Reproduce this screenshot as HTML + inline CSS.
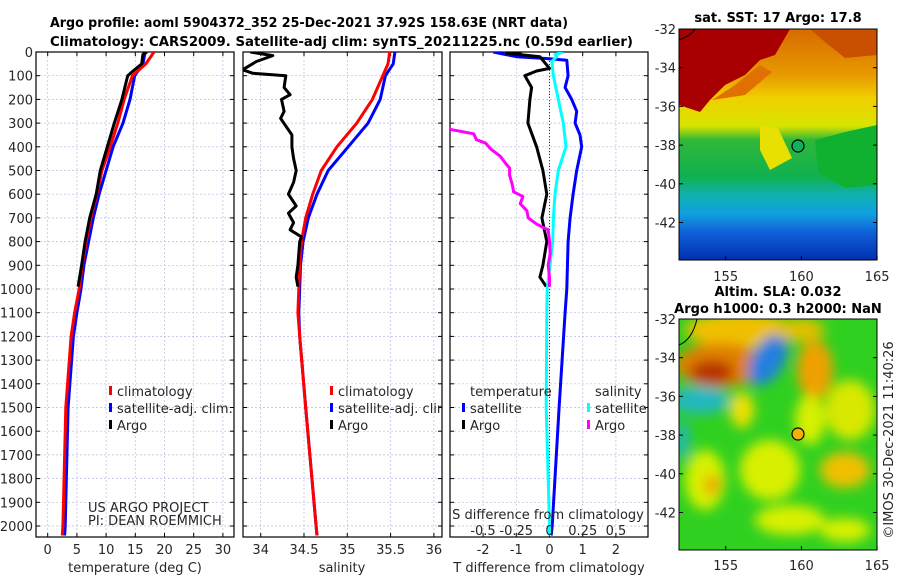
<!DOCTYPE html>
<html><head><meta charset="utf-8">
<style>
html,body{margin:0;padding:0;background:#fff;}
svg{display:block;font-family:"DejaVu Sans","Liberation Sans",sans-serif;}
.t{font-size:13px;fill:#262626;}
.b{font-weight:bold;font-size:13px;fill:#000;}
</style></head>
<body>
<svg id="fig" width="900" height="580" viewBox="0 0 900 580">
<defs>
<filter id="blur6" x="-20%" y="-20%" width="140%" height="140%"><feGaussianBlur stdDeviation="6"/></filter>
<clipPath id="c1"><rect x="36" y="52" width="198" height="485"/></clipPath>
<clipPath id="c2"><rect x="243" y="52" width="199" height="485"/></clipPath>
<clipPath id="c3"><rect x="450" y="52" width="198" height="485"/></clipPath>
<clipPath id="m1"><rect x="679" y="29" width="198" height="231"/></clipPath>
<clipPath id="m2"><rect x="679" y="319" width="198" height="231"/></clipPath>
<linearGradient id="sstg" x1="0" y1="0" x2="0" y2="1">
<stop offset="0" stop-color="#d86a00"/><stop offset="0.2" stop-color="#e89a00"/>
<stop offset="0.3" stop-color="#f0d000"/><stop offset="0.42" stop-color="#d8e400"/>
<stop offset="0.48" stop-color="#30b838"/><stop offset="0.64" stop-color="#10b050"/>
<stop offset="0.72" stop-color="#10b0b0"/><stop offset="0.8" stop-color="#10a0e0"/>
<stop offset="0.88" stop-color="#1060d8"/><stop offset="1" stop-color="#0030b0"/>
</linearGradient>
</defs>
<text class="b" x="50" y="27" textLength="518" lengthAdjust="spacingAndGlyphs">Argo profile: aoml 5904372_352 25-Dec-2021 37.92S 158.63E (NRT data)</text>
<text class="b" x="50" y="46" textLength="583" lengthAdjust="spacingAndGlyphs">Climatology: CARS2009. Satellite-adj clim: synTS_20211225.nc (0.59d earlier)</text>
<g id="plots"></g>
<g id="maps">
 <g clip-path="url(#m1)">
  <rect x="679" y="29" width="198" height="231" fill="url(#sstg)"/>
  <polygon points="679,29 790,29 775,55 760,60 745,75 725,85 710,100 700,112 679,105" fill="#a80000"/>
  <polygon points="712,100 735,85 760,65 772,72 745,95" fill="#e07000"/>
  <polygon points="810,29 877,29 877,55 845,58 825,42" fill="#c85000"/>
  <polygon points="760,125 778,128 792,158 770,170 760,150" fill="#e8e000"/>
  <polygon points="815,140 845,132 877,125 877,185 845,188 818,172" fill="#10b030"/>
  <path d="M679,40 Q692,35 695,29" fill="none" stroke="#000" stroke-width="1"/>
  <circle cx="798" cy="146" r="6" fill="#10b060" stroke="#000" stroke-width="1.2"/>
 </g>
 <rect x="679" y="29" width="198" height="231" fill="none" stroke="#000" stroke-width="1"/>
 <g clip-path="url(#m2)">
  <rect x="679" y="319" width="198" height="231" fill="#30d020"/>
  <g filter="url(#blur6)">
   <ellipse cx="740" cy="330" rx="55" ry="18" fill="#f0c000"/>
   <ellipse cx="720" cy="365" rx="45" ry="22" fill="#e08000"/>
   <ellipse cx="712" cy="372" rx="22" ry="12" fill="#b83000"/>
   <ellipse cx="768" cy="360" rx="16" ry="28" fill="#2080e0" transform="rotate(30 768 360)"/>
   <ellipse cx="700" cy="400" rx="30" ry="14" fill="#20b8c0"/>
   <ellipse cx="815" cy="370" rx="18" ry="30" fill="#f0a000"/>
   <ellipse cx="800" cy="330" rx="25" ry="12" fill="#e0c000"/>
   <ellipse cx="850" cy="410" rx="25" ry="30" fill="#d8e800"/>
   <ellipse cx="845" cy="470" rx="25" ry="18" fill="#f0c000"/>
   <ellipse cx="770" cy="470" rx="30" ry="30" fill="#d8f000"/>
   <ellipse cx="705" cy="480" rx="20" ry="30" fill="#d8f000"/>
   <ellipse cx="712" cy="485" rx="8" ry="10" fill="#f0a000"/>
   <ellipse cx="790" cy="520" rx="35" ry="15" fill="#d8f000"/>
   <ellipse cx="845" cy="530" rx="25" ry="12" fill="#d8f000"/>
   <ellipse cx="742" cy="410" rx="12" ry="18" fill="#f0e000"/>
   <ellipse cx="810" cy="420" rx="15" ry="25" fill="#d8f000"/>
   <ellipse cx="682" cy="440" rx="8" ry="20" fill="#20b8b0"/>
  </g>
  <path d="M679,345 Q692,340 697,319" fill="none" stroke="#000" stroke-width="1"/>
  <circle cx="798" cy="434" r="6" fill="#f5b000" stroke="#000" stroke-width="1.2"/>
 </g>
 <rect x="679" y="319" width="198" height="231" fill="none" stroke="#000" stroke-width="1"/>
 <text class="b" x="778" y="22" text-anchor="middle">sat. SST: 17 Argo: 17.8</text>
 <text class="b" x="778" y="296" text-anchor="middle">Altim. SLA: 0.032</text>
 <text class="b" x="778" y="313" text-anchor="middle">Argo h1000: 0.3 h2000: NaN</text>
 <text class="t" transform="translate(893,440) rotate(-90)" text-anchor="middle">©IMOS 30-Dec-2021 11:40:26</text>
</g>
<g id="mapaxes"></g>
</svg>
<script>
// ---- data ----
const depthTicks = [0,100,200,300,400,500,600,700,800,900,1000,1100,1200,1300,1400,1500,1600,1700,1800,1900,2000];
const tTicks = [0,5,10,15,20,25,30];
const sTicks = [34,34.5,35,35.5,36];
const sTickLabels = ["34","34.5","35","35.5","36"];
const dTTicks = [-2,-1,0,1,2];
const dSTicks = [-0.5,-0.25,0,0.25,0.5];
const dSTickLabels = ["-0.5","-0.25","0","0.25","0.5"];

const climDepth = [0,50,100,200,300,400,500,600,700,800,900,1000,1100,1200,1500,2000,2040];
const tempClim = [18.2,16.8,14.5,13.1,12.0,10.7,9.3,8.4,7.4,6.6,5.9,5.4,4.6,4.0,3.1,2.6,2.5];
const tempSat  = [16.7,16.3,14.9,14.1,12.9,11.2,10.0,8.8,7.8,7.0,6.2,5.7,5.0,4.4,3.5,3.0,2.9];
const salClim = [35.49,35.47,35.41,35.29,35.11,34.88,34.70,34.60,34.52,34.47,34.45,34.44,34.43,34.45,34.52,34.64,34.65];
const salSat  = [35.55,35.53,35.44,35.38,35.24,35.01,34.78,34.65,34.55,34.49,34.46,34.45,34.44,34.45,34.52,34.64,34.65];

const argoTDepth = [0,10,50,80,100,200,300,400,500,600,700,800,900,990];
const tempArgo = [17.0,16.3,16.1,14.6,13.7,12.7,11.4,10.2,9.0,8.3,7.2,6.4,5.8,5.2];
const argoSDepth = [0,15,40,75,90,100,150,180,200,250,280,350,400,450,500,550,600,650,680,720,750,780,800,900,950,990];
const salArgo = [33.88,34.14,33.95,33.79,33.91,34.29,34.27,34.34,34.24,34.27,34.23,34.36,34.36,34.38,34.41,34.38,34.32,34.41,34.32,34.38,34.34,34.47,34.45,34.43,34.41,34.43];

const dTSatDepth = [0,20,28,35,100,150,200,250,300,350,400,500,600,700,800,1000,1100,1500,2000,2040];
const dTSat = [-1.69,-0.99,-0.05,0.52,0.56,0.47,0.67,0.82,0.77,0.92,0.97,0.82,0.71,0.62,0.56,0.52,0.47,0.29,0.08,0.05];
const dTArgoDepth = [0,5,20,69,80,100,150,200,300,400,500,600,700,800,900,950,990];
const dTArgo = [-0.84,-1.29,-0.29,0.0,-0.39,-0.74,-0.54,-0.59,-0.65,-0.39,-0.2,-0.08,-0.23,-0.08,-0.2,-0.29,-0.1];
const dSSatDepth = [0,10,20,40,100,200,300,400,500,600,700,800,1000,1100,1500,2000,2040];
const dSSat = [0.104,0.041,0.054,0.017,0.029,0.066,0.104,0.124,0.066,0.041,0.029,0.024,-0.017,-0.02,-0.025,0.0,0.0];
const dSArgoDepth = [326,345,370,385,410,440,470,490,520,560,590,610,640,670,700,725,740,750,800,850,900,950,990];
const dSArgo = [-0.75,-0.57,-0.55,-0.48,-0.44,-0.37,-0.33,-0.30,-0.30,-0.28,-0.27,-0.20,-0.22,-0.17,-0.16,-0.10,-0.05,-0.01,0.0,0.005,-0.01,0.0,0.0];

const latTicks = [-32,-34,-36,-38,-40,-42];
const lonTicks = [155,160,165];

// ---- scales ----
const NS = "http://www.w3.org/2000/svg";
const yD = d => 52 + d*0.237;
const xT = t => 47.7 + t*5.84;
const xS = s => 260.7 + (s-34)*86.6;
const xdT = v => 549.5 + v*33.2;
const xdS = v => 549.5 + v*133;
const mapLon = lon => 725.7 + (lon-155)*15.14;
const mapLat1 = lat => 29 + (-32-lat)*19.35;
const mapLat2 = lat => 319 + (-32-lat)*19.35;
const plots = document.getElementById('plots');

function mk(tag, attrs, parent){
  const e = document.createElementNS(NS, tag);
  for (const k in attrs) e.setAttribute(k, attrs[k]);
  (parent||plots).appendChild(e);
  return e;
}
function txt(x,y,s,anchor,parent){
  const e = mk('text',{x:x,y:y,'class':'t','text-anchor':anchor||'middle'},parent);
  e.textContent = s;
  return e;
}
function line(xs, ds, xf, color, clip, name){
  const pts = xs.map((v,i)=>xf(v).toFixed(1)+','+yD(ds[i]).toFixed(1)).join(' ');
  const e = mk('polyline',{points:pts,fill:'none',stroke:color,'stroke-width':3,'stroke-linejoin':'round','clip-path':'url(#'+clip+')'});
  
  
}
function panel(x0,x1,gridXs,name){
  const g = mk('g',{});
  
  
  depthTicks.forEach(d=>{
    mk('line',{x1:x0,x2:x1,y1:yD(d),y2:yD(d),stroke:'#b8bce0','stroke-width':0.7,'stroke-dasharray':'2,2'},g);
    mk('line',{x1:x0,x2:x0+4,y1:yD(d),y2:yD(d),stroke:'#000'},g);
    mk('line',{x1:x1-4,x2:x1,y1:yD(d),y2:yD(d),stroke:'#000'},g);
  });
  gridXs.forEach(x=>{
    mk('line',{x1:x,x2:x,y1:52,y2:537,stroke:'#b8bce0','stroke-width':0.7,'stroke-dasharray':'2,2'},g);
    mk('line',{x1:x,x2:x,y1:537,y2:533,stroke:'#000'},g);
    mk('line',{x1:x,x2:x,y1:52,y2:56,stroke:'#000'},g);
  });
  mk('rect',{x:x0,y:52,width:x1-x0,height:485,fill:'none',stroke:'#000','stroke-width':1.2},g);
  return g;
}
depthTicks.forEach(d=>{
  const e = txt(33, yD(d)+5, String(d), 'end');
  
  
});
// panel 1
panel(36,234,tTicks.map(xT),'temperature-panel');
tTicks.forEach(t=>{ const e=txt(xT(t),554,String(t));   });
{const e=txt(135,572,'temperature (deg C)');  }
line(tempSat,climDepth,xT,'#0000ff','c1','temperature-satellite-clim-line');
line(tempClim,climDepth,xT,'#ff0000','c1','temperature-climatology-line');
line(tempArgo,argoTDepth,xT,'#000000','c1','temperature-argo-line');
// panel 2
panel(243,442,sTicks.map(xS),'salinity-panel');
sTicks.forEach((s,i)=>{ const e=txt(xS(s),554,sTickLabels[i]);   });
{const e=txt(342,572,'salinity');  }
line(salSat,climDepth,xS,'#0000ff','c2','salinity-satellite-clim-line');
line(salClim,climDepth,xS,'#ff0000','c2','salinity-climatology-line');
line(salArgo,argoSDepth,xS,'#000000','c2','salinity-argo-line');
// panel 3
panel(450,648,dTTicks.map(xdT),'difference-panel');
mk('line',{x1:xdT(0),x2:xdT(0),y1:52,y2:537,stroke:'#333','stroke-width':1,'stroke-dasharray':'1,2'});
dTTicks.forEach(t=>{ const e=txt(xdT(t),554,String(t));   });
{const e=txt(549,572,'T difference from climatology');  }
line(dTSat,dTSatDepth,xdT,'#0000ff','c3','dT-satellite-line');
line(dTArgo,dTArgoDepth,xdT,'#000000','c3','dT-argo-line');
line(dSSat,dSSatDepth,xdS,'#00ffff','c3','dS-satellite-line');
line(dSArgo,dSArgoDepth,xdS,'#ff00ff','c3','dS-argo-line');
{const e=txt(548,519,'S difference from climatology');  }
dSTicks.forEach((s,i)=>{ const e=txt(xdS(s),535,dSTickLabels[i]);   });

function legend(x,y,color,label,name,clip){
  const g = mk('g',clip?{'clip-path':'url(#'+clip+')'}:{});
  
  
  mk('rect',{x:x,y:y-10,width:3,height:9,fill:color},g);
  txt(x+8,y,label,'start',g);
}
legend(109,396,'#ff0000','climatology','legend-climatology');
legend(109,413,'#0000ff','satellite-adj. clim.','legend-satellite-adj');
legend(109,430,'#000000','Argo','legend-argo');
legend(330,396,'#ff0000','climatology','legend-climatology-2');
legend(330,413,'#0000ff','satellite-adj. clim.','legend-satellite-adj-2','c2');
legend(330,430,'#000000','Argo','legend-argo-2');
{const e=txt(470,396,'temperature','start');  }
legend(462,413,'#0000ff','satellite','legend-temp-satellite');
legend(462,430,'#000000','Argo','legend-temp-argo');
{const e=txt(595,396,'salinity','start');  }
legend(587,413,'#00ffff','satellite','legend-sal-satellite');
legend(587,430,'#ff00ff','Argo','legend-sal-argo');
{const e=txt(88,512,'US ARGO PROJECT','start'); e.setAttribute('font-size','11');  }
{const e=txt(88,525,'PI: DEAN ROEMMICH','start'); e.setAttribute('font-size','11');  }

const ma = document.getElementById('mapaxes');
[[mapLat1,260,281],[mapLat2,550,570]].forEach(([ly,bot,lab])=>{
  latTicks.forEach(l=>{
    const y=ly(l);
    mk('line',{x1:877,x2:873,y1:y,y2:y,stroke:'#000'},ma);
    mk('line',{x1:679,x2:683,y1:y,y2:y,stroke:'#000'},ma);
    const e=txt(676,y+5,String(l),'end',ma);
    
    
  });
  lonTicks.forEach(l=>{
    const x=mapLon(l);
    mk('line',{x1:x,x2:x,y1:bot,y2:bot-4,stroke:'#000'},ma);
    const e=txt(x,lab,String(l),'middle',ma);
    
    
  });
});
</script>
</body></html>
